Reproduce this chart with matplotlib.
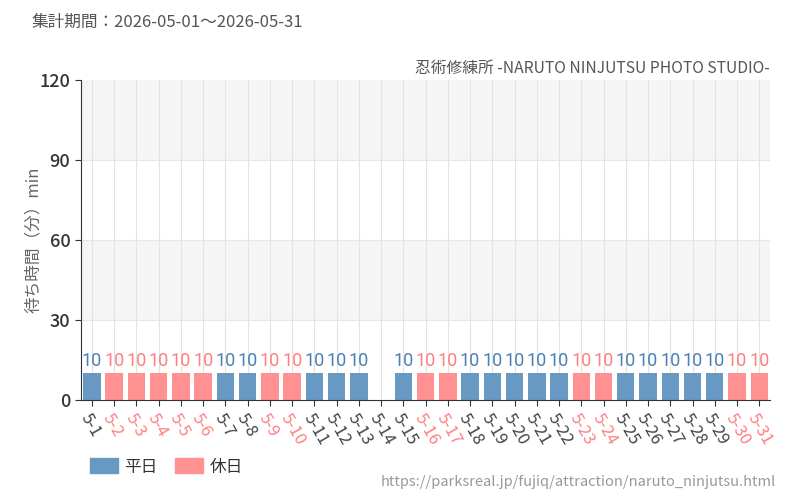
"""Wait-time chart — 忍術修練所 daily averages, May 2026."""

import matplotlib

matplotlib.use("Agg")
import matplotlib.pyplot as plt
from matplotlib.patches import Patch

plt.rcParams["font.family"] = ["Noto Sans CJK JP", "DejaVu Sans"]

# data
days = [f"5-{d}" for d in range(1, 32)]
waits = [10, 10, 10, 10, 10, 10, 10, 10, 10, 10, 10, 10, 10, None, 10, 10,
         10, 10, 10, 10, 10, 10, 10, 10, 10, 10, 10, 10, 10, 10, 10]
holidays = ["5-2", "5-3", "5-4", "5-5", "5-6", "5-9", "5-10", "5-16", "5-17",
            "5-23", "5-24", "5-30", "5-31"]
y_ticks = [0, 30, 60, 90, 120]

BLUE = "#6899c3"
PINK = "#ff9193"
BLUE_TXT = "#4a80b4"
PINK_TXT = "#ff7f82"
GREY = "#555555"

fig = plt.figure(figsize=(8, 5), dpi=100)
ax = fig.add_axes([0.101, 0.2, 0.862, 0.64])

x = list(range(len(days)))
ax.set_xlim(-0.5, len(days) - 0.5)
ax.set_ylim(0, 120)

# alternating bands
for lo, hi in [(30, 60), (90, 120)]:
    ax.axhspan(lo, hi, color="#f5f5f5", zorder=0, lw=0)
for yv in (30, 60, 90):
    ax.axhline(yv, color="#e6e6e6", lw=0.8, zorder=0.5)
for xi in x:
    ax.axvline(xi, color="#e3e3e3", lw=0.8, zorder=0.5)

for xi, day, w in zip(x, days, waits):
    if w is None:
        continue
    hol = day in holidays
    ax.bar(xi, w, width=0.78, color=PINK if hol else BLUE, zorder=2)
    ax.text(xi, w + 1.2, f"{w}", ha="center", va="bottom", fontsize=13,
            color=PINK_TXT if hol else BLUE_TXT, family="Roboto")

for side in ("top", "right"):
    ax.spines[side].set_visible(False)
ax.spines["left"].set_color("#333333")
ax.spines["bottom"].set_color("#333333")

ax.set_yticks(y_ticks)
ax.set_yticklabels([str(v) for v in y_ticks], fontsize=13, color="#333333",
                   fontweight="medium")
ax.set_xticks(x)
ax.set_xticklabels(days, rotation=-60, ha="left", va="top",
                   rotation_mode="anchor", fontsize=12)
for lbl, day in zip(ax.get_xticklabels(), days):
    lbl.set_color(PINK_TXT if day in holidays else "#444444")
ax.tick_params(axis="both", length=4, color="#333333")

ax.set_ylabel("待ち時間（分）min", fontsize=12, color="#666666")
ax.yaxis.set_label_coords(-0.056, 0.5)

fig.text(0.039, 0.955, "集計期間：2026-05-01～2026-05-31", fontsize=12,
         color=GREY, ha="left", va="center")
fig.text(0.962, 0.864, "忍術修練所 -NARUTO NINJUTSU PHOTO STUDIO-",
         fontsize=11.3, color=GREY, ha="right", va="center")
fig.text(0.97, 0.036, "https://parksreal.jp/fujiq/attraction/naruto_ninjutsu.html",
         fontsize=10.5, color="#999999", ha="right", va="center")

handles = [Patch(color=BLUE, label="平日"), Patch(color=PINK, label="休日")]
fig.legend(handles=handles, loc="center left", bbox_to_anchor=(0.112, 0.066),
           ncol=2, frameon=False, fontsize=12, handlelength=1.7,
           handleheight=1.0, handletextpad=0.4, columnspacing=1.0,
           borderpad=0.0, borderaxespad=0.0, labelcolor="#333333")

fig.savefig("out.png", dpi=100)
